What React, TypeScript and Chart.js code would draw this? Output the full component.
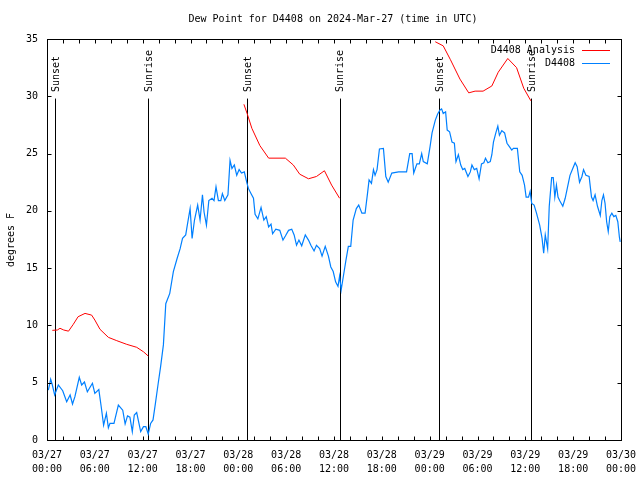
import React, { useEffect, useRef } from "react";
import { Chart, registerables } from "chart.js";

Chart.register(...registerables);

// Hours since 2024-03-27 00:00 UTC
const blueT = [0.17,0.46,0.67,0.96,1.42,1.97,2.47,2.9,3.2,3.5,4.05,4.35,4.7,5.06,5.7,6.0,6.5,6.8,7.1,7.45,7.7,7.9,8.4,8.95,9.5,9.8,10.1,10.4,10.7,10.95,11.25,11.75,12.1,12.4,12.7,13.0,13.3,13.6,13.95,14.25,14.6,14.9,15.4,15.85,16.3,16.7,17.0,17.4,17.6,17.95,18.2,18.5,18.9,19.2,19.5,19.7,20.0,20.3,20.7,20.95,21.2,21.5,21.8,22.0,22.3,22.7,22.96,23.2,23.5,23.8,24.1,24.4,24.75,25.05,25.26,25.6,25.9,26.1,26.45,26.85,27.2,27.5,27.8,28.1,28.3,28.7,29.2,29.6,29.9,30.3,30.7,31.0,31.3,31.6,31.95,32.4,32.8,33.1,33.5,33.8,34.2,34.5,34.9,35.3,35.6,35.9,36.2,36.5,36.7,36.9,37.2,37.5,37.8,38.1,38.4,38.8,39.1,39.5,39.9,40.2,40.4,40.7,40.95,41.15,41.4,41.7,42.2,42.5,42.8,43.25,44.1,45.1,45.5,45.8,46.0,46.4,46.7,47.0,47.2,47.7,48.05,48.3,48.7,49.0,49.3,49.5,49.7,50.0,50.2,50.5,50.8,51.1,51.3,51.6,51.9,52.15,52.4,52.8,53.1,53.3,53.6,53.9,54.2,54.5,54.8,55.0,55.3,55.6,55.8,56.0,56.3,56.55,56.75,57.05,57.4,57.7,58.0,58.3,58.5,59.0,59.3,59.6,59.9,60.1,60.4,60.6,60.8,61.1,61.4,61.8,62.1,62.3,62.5,62.8,63.0,63.3,63.5,63.7,63.9,64.1,64.3,64.7,65.0,65.3,65.6,65.95,66.25,66.5,66.8,67.1,67.3,67.6,68.0,68.3,68.5,68.75,69.05,69.4,69.6,69.8,70.0,70.2,70.4,70.6,70.85,71.1,71.35,71.6,71.8,71.9];
const blueV = [4.36,5.3,4.8,3.93,4.8,4.3,3.34,3.93,3.14,3.78,5.47,4.8,5.06,4.2,4.95,4.07,4.4,2.9,1.3,2.33,1.07,1.45,1.45,3.05,2.6,1.4,2.1,2.0,0.73,2.18,2.4,0.73,1.16,1.16,0.52,1.45,1.75,3.2,4.95,6.4,8.3,11.9,12.8,14.7,15.8,16.7,17.6,17.9,18.76,20.2,17.6,19.2,20.5,19.2,21.4,19.9,18.76,20.9,21.1,20.9,22.1,20.9,20.9,21.5,20.9,21.4,24.4,23.7,24.0,23.1,23.6,23.3,23.4,22.5,21.96,21.5,21.1,19.7,19.3,20.3,19.2,19.5,18.6,18.85,18.0,18.4,18.3,17.45,17.8,18.3,18.4,17.9,17.0,17.45,16.95,17.9,17.45,17.0,16.5,17.0,16.7,16.05,16.9,16.05,15.1,14.7,13.8,13.4,14.3,13.1,14.4,15.7,16.9,16.9,19.2,20.2,20.5,19.8,19.8,21.5,22.7,22.4,23.6,23.1,23.6,25.4,25.45,23.0,22.5,23.3,23.4,23.4,25.0,25.0,23.3,24.1,24.1,25.0,24.3,24.1,25.6,26.8,27.9,28.45,28.8,28.9,28.5,28.65,27.05,26.9,26.0,25.9,24.3,24.9,24.0,23.6,23.7,23.0,23.4,24.0,23.6,23.7,22.8,24.1,24.2,24.6,24.2,24.3,24.9,26.0,26.8,27.4,26.6,27.0,26.8,25.9,25.6,25.3,25.45,25.45,23.4,23.1,22.25,21.2,21.2,21.7,20.65,20.5,19.8,18.76,17.6,16.3,17.9,16.7,20.4,22.9,22.9,21.2,22.25,21.2,20.9,20.4,21.1,22.1,23.1,23.7,24.2,23.85,22.5,23.0,23.6,23.1,23.0,21.2,20.9,21.4,20.4,19.6,20.9,21.4,20.65,19.05,18.2,19.5,19.8,19.5,19.6,19.05,17.7,17.3];

// Analysis series (null = gap between nightly runs)
const redT = [0.67,1.3,1.63,2.1,2.7,3.3,3.9,4.77,5.6,6.0,6.65,7.7,8.75,10.0,11.25,12.1,12.7, 18,
  24.7,25.1,25.7,26.7,27.8,29.9,30.9,31.7,32.8,33.8,34.8,35.7,36.7, 42,
  48.7,49.7,50.6,51.8,52.9,53.7,54.7,55.8,56.6,57.8,58.9,59.8,60.7];
const redV: (number | null)[] = [9.57,9.6,9.75,9.6,9.5,10.1,10.76,11.05,10.9,10.47,9.66,8.96,8.67,8.35,8.09,7.7,7.33, null,
  29.3,28.5,27.2,25.7,24.6,24.6,24.0,23.2,22.8,23.0,23.5,22.25,21.1, null,
  34.76,34.4,33.2,31.5,30.3,30.45,30.45,30.9,32.1,33.3,32.5,30.7,29.6];

const sunT = [1.04, 12.67, 25.1, 36.7, 49.2, 60.7];
const sunLabels = ["Sunset", "Sunrise", "Sunset", "Sunrise", "Sunset", "Sunrise"];
const sunTop = 29.8;

const yTicks = [0, 5, 10, 15, 20, 25, 30, 35];
const dayLabels = ["03/27", "03/28", "03/29", "03/30"];
const titleText = "Dew Point for D4408 on 2024-Mar-27 (time in UTC)";
const yTitle = "degrees F";
const legendNames = ["D4408 Analysis", "D4408"];
const colors = ["#ff0000", "#0080ff"];

const FONT = "10px 'DejaVu Sans Mono', monospace";

export default function App() {
  const ref = useRef<HTMLCanvasElement>(null);
  useEffect(() => {
    const canvas = ref.current!;
    const overlay = {
      id: "overlay",
      beforeDatasetsDraw(chart: any) {
        const { ctx, scales } = chart;
        const xs = scales.x, ys = scales.y;
        ctx.save();
        ctx.strokeStyle = "#000";
        ctx.lineWidth = 1;
        sunT.forEach((t) => {
          const x = Math.round(xs.getPixelForValue(t)) + 0.5;
          ctx.beginPath();
          ctx.moveTo(x, ys.getPixelForValue(sunTop));
          ctx.lineTo(x, ys.getPixelForValue(0));
          ctx.stroke();
        });
        ctx.restore();
      },
      afterDraw(chart: any) {
        const { ctx, chartArea: a, scales } = chart;
        const xs = scales.x, ys = scales.y;
        ctx.save();
        ctx.strokeStyle = "#000";
        ctx.lineWidth = 1;
        const L = Math.round(a.left) + 0.5, R = Math.round(a.right) + 0.5;
        const T = Math.round(a.top) + 0.5, B = Math.round(a.bottom) + 0.5;
        ctx.strokeRect(L, T, R - L, B - T);
        ctx.beginPath();
        for (let h = 0; h <= 72; h += 2) {
          const x = Math.round(xs.getPixelForValue(h)) + 0.5;
          ctx.moveTo(x, B); ctx.lineTo(x, B - 4);
          ctx.moveTo(x, T); ctx.lineTo(x, T + 4);
        }
        yTicks.forEach((v) => {
          const y = Math.round(ys.getPixelForValue(v)) + 0.5;
          ctx.moveTo(L, y); ctx.lineTo(L + 4, y);
          ctx.moveTo(R, y); ctx.lineTo(R - 4, y);
        });
        ctx.stroke();

        ctx.fillStyle = "#000";
        ctx.font = FONT;
        sunT.forEach((t, i) => {
          const x = xs.getPixelForValue(t) + 1;
          ctx.save();
          ctx.translate(x, 92);
          ctx.rotate(-Math.PI / 2);
          ctx.textAlign = "left";
          ctx.textBaseline = "middle";
          ctx.fillText(sunLabels[i], 0, 0);
          ctx.restore();
        });
        ctx.textAlign = "center";
        ctx.textBaseline = "middle";
        ctx.fillText(titleText, 333, 19);
        ctx.save();
        ctx.translate(11, 240);
        ctx.rotate(-Math.PI / 2);
        ctx.fillText(yTitle, 0, 0);
        ctx.restore();
        ctx.textAlign = "right";
        legendNames.forEach((n, i) => {
          const y = 50 + i * 13;
          ctx.fillStyle = "#000";
          ctx.fillText(n, 575, y);
          ctx.strokeStyle = colors[i];
          ctx.beginPath();
          ctx.moveTo(582, Math.round(y) + 0.5);
          ctx.lineTo(610, Math.round(y) + 0.5);
          ctx.stroke();
        });
        ctx.restore();
      },
    };

    const chart = new Chart(canvas, {
      type: "line",
      data: {
        datasets: [
          {
            label: legendNames[0],
            data: redT.map((t, i) => ({ x: t, y: redV[i] })) as any,
            borderColor: colors[0],
            borderWidth: 1,
            pointRadius: 0,
            spanGaps: false,
            tension: 0,
          },
          {
            label: legendNames[1],
            data: blueT.map((t, i) => ({ x: t, y: blueV[i] })),
            borderColor: colors[1],
            borderWidth: 1.2,
            pointRadius: 0,
            tension: 0,
          },
        ],
      },
      options: {
        responsive: false,
        animation: false,
        layout: { padding: { left: 0, right: 19, top: 39, bottom: 0 } },
        plugins: { legend: { display: false }, title: { display: false }, tooltip: { enabled: false } },
        scales: {
          x: {
            type: "linear",
            min: 0,
            max: 72,
            grid: { display: false, drawTicks: false },
            border: { display: false },
            afterFit: (s: any) => { s.height = 40; s.paddingLeft = 0; s.paddingRight = 0; },
            afterBuildTicks: (s: any) => {
              const t = [];
              for (let h = 0; h <= 72; h += 6) t.push({ value: h });
              s.ticks = t;
            },
            ticks: {
              autoSkip: false,
              maxRotation: 0,
              padding: 8,
              color: "#000",
              font: { family: "'DejaVu Sans Mono', monospace", size: 10, lineHeight: 1.4 },
              callback: (v: any) => {
                const h = Number(v);
                const d = dayLabels[Math.floor(h / 24)];
                const hh = String(h % 24).padStart(2, "0");
                return [d, hh + ":00"];
              },
            },
          },
          y: {
            min: 0,
            max: 35,
            grid: { display: false, drawTicks: false },
            border: { display: false },
            afterFit: (s: any) => { s.width = 47; s.paddingTop = 0; s.paddingBottom = 0; },
            ticks: {
              stepSize: 5,
              padding: 9,
              color: "#000",
              font: { family: "'DejaVu Sans Mono', monospace", size: 10 },
            },
          },
        },
      },
      plugins: [overlay],
    });
    return () => chart.destroy();
  }, []);

  return (
    <div style={{ position: "fixed", left: 0, top: 0, width: 640, height: 480, background: "#fff" }}>
      <canvas ref={ref} width={640} height={480} style={{ display: "block" }} />
    </div>
  );
}
